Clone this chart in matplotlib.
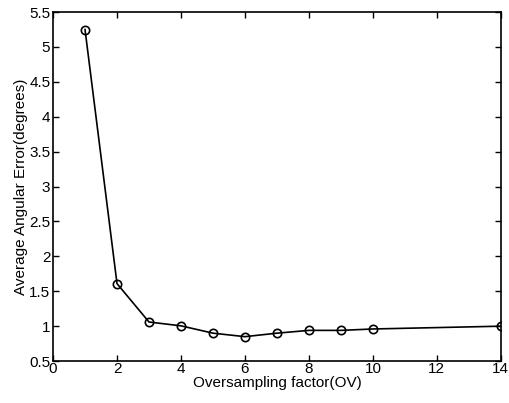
import matplotlib
matplotlib.use('Agg')
import matplotlib.pyplot as plt

plt.rcParams['font.family'] = ['Liberation Sans', 'DejaVu Sans']

ov = [1, 2, 3, 4, 5, 6, 7, 8, 9, 10, 14]
err = [5.25, 1.61, 1.06, 1.005, 0.90, 0.85, 0.90, 0.94, 0.94, 0.96, 1.0]

fig = plt.figure(figsize=(5.1, 4.03), dpi=100)
ax = fig.add_axes([0.104, 0.104, 0.878, 0.866])

ax.plot(ov, err, color='black', linewidth=1.2, marker='o', markersize=6,
        markerfacecolor='none', markeredgewidth=1.2)

ax.set_xlim(0, 14)
ax.set_ylim(0.5, 5.5)
ax.set_xticks(range(0, 15, 2))
ax.set_yticks([0.5, 1, 1.5, 2, 2.5, 3, 3.5, 4, 4.5, 5, 5.5])
ax.set_yticklabels(['0.5', '1', '1.5', '2', '2.5', '3', '3.5', '4', '4.5', '5', '5.5'])
ax.tick_params(direction='in', top=True, right=True, labelsize=11, length=4, width=1)
ax.tick_params(axis='x', pad=1)
ax.tick_params(axis='y', pad=2)
for s in ax.spines.values():
    s.set_linewidth(1.2)

ax.set_xlabel('Oversampling factor(OV)', fontsize=11, labelpad=0)
ax.set_ylabel('Average Angular Error(degrees)', fontsize=11, labelpad=1)

fig.savefig('out.png', dpi=100)
